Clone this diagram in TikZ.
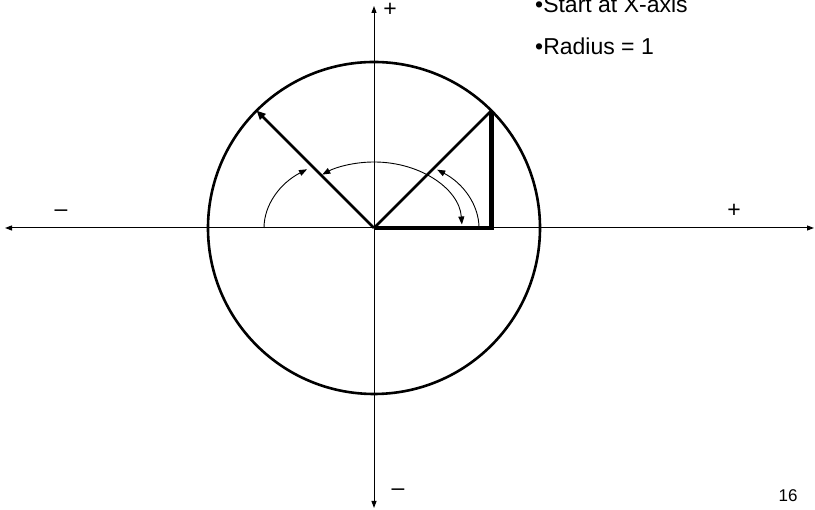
\documentclass[tikz,border=0pt]{standalone}
\usepackage{fontspec}
\setmainfont{Liberation Sans}
\usetikzlibrary{arrows.meta}

\begin{document}
\begin{tikzpicture}[x=1pt,y=1pt,>={Triangle[length=7pt,width=5pt]},
 axis/.style={line width=1pt,<->},
 ring/.style={line width=2.6pt},
 spoke/.style={line width=2.8pt},
 leg/.style={line width=4.4pt},
 turn/.style={line width=0.9pt,>={Triangle[length=8pt,width=6pt]}},
 lbl/.style={font=\fontsize{23}{27}\selectfont,inner sep=0pt}]
\useasboundingbox (0,0) rectangle (815,510);
\coordinate (o) at (374,282);
\coordinate (xl) at (5,282);
\coordinate (xr) at (814,282);
\coordinate (yt) at (374,504);
\coordinate (yb) at (374,2);
\path (o) ++(45:166) coordinate (p);
\path (o) ++(135:166) coordinate (q);
\coordinate (f) at (p |- o);
% axes and unit circle
\draw[axis] (xl) -- (xr);
\draw[axis] (yb) -- (yt);
\draw[ring] (o) circle[radius=166];
% radii and the right triangle
\draw[spoke] (o) -- (p);
\draw[spoke,-{Triangle[length=9pt,width=8pt]}] (o) -- (q);
\draw[leg] (o) -- (f) -- (p);
% angle arcs
\draw[turn,->] (o) ++(105,0) arc[start angle=0,end angle=53,x radius=105,y radius=73];
\draw[turn,->] (o) ++(-110,0) arc[start angle=180,end angle=127.5,x radius=110,y radius=74];
\draw[turn,<->] (o) ++(3:88 and 66) arc[start angle=3,end angle=126,x radius=88,y radius=66];
% signs
\node[lbl] (ptop) at (390,500) {+};
\node[lbl] (pright) at (734,299) {+};
\node[lbl] (mleft) at (61,297) {–};
\node[lbl] (mbot) at (398,18) {–};
% notes
\node[lbl,anchor=base west] (start) at (535,497) {•Start at X-axis};
\node[lbl,anchor=base west] (rad) at (535,455) {•Radius = 1};
\node[font=\fontsize{17}{20}\selectfont,inner sep=0pt] (page) at (788,14) {16};
\end{tikzpicture}
\end{document}
